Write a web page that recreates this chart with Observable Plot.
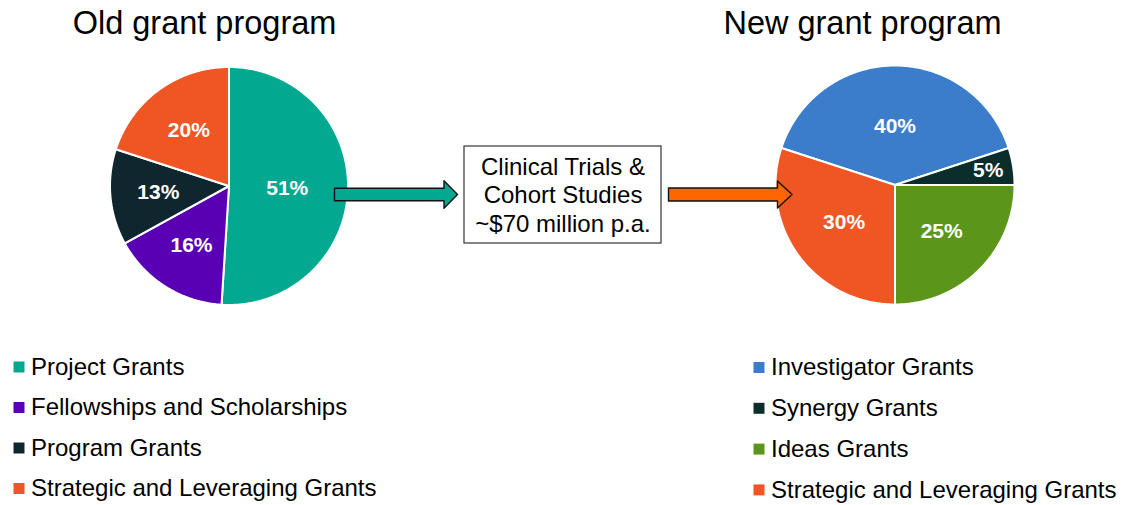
<!DOCTYPE html>
<html>
<head>
<meta charset="utf-8">
<script src="https://cdn.jsdelivr.net/npm/d3@7"></script>
<script src="https://cdn.jsdelivr.net/npm/@observablehq/plot@0.6"></script>
<style>
  html, body { margin: 0; padding: 0; background: #ffffff; }
  #chart svg { display: block; }
</style>
</head>
<body>
<div id="chart"></div>
<script>
// ---------- data ----------
const titles = ["Old grant program", "New grant program"];

const oldCategories = ["Project Grants", "Fellowships and Scholarships", "Program Grants", "Strategic and Leveraging Grants"];
const oldValues = [51, 16, 13, 20];
const oldColors = ["#02A88F", "#5A00B4", "#0F262E", "#F05524"];

const newCategories = ["Investigator Grants", "Synergy Grants", "Ideas Grants", "Strategic and Leveraging Grants"];
const newValues = [40, 5, 25, 30];
const newColors = ["#3B7DCA", "#0B2E2B", "#5B961B", "#F05524"];

const boxLines = ["Clinical Trials &", "Cohort Studies", "~$70 million p.a."];

// ---------- layout ----------
const W = 1124, H = 505;
const FONT = "Liberation Sans, Arial, Helvetica, sans-serif";
const oldPie = {cx: 228.5, cy: 185.5, r: 119, start: 0};
const newPie = {cx: 894.5, cy: 184.5, r: 119.5, start: -0.4 * Math.PI};

function pieGeometry(id, cats, vals, cols, p) {
  const arcs = d3.pie().sort(null).startAngle(p.start).endAngle(p.start + 2 * Math.PI)(vals);
  const poly = [], labels = [];
  arcs.forEach((a, i) => {
    const key = id + i;
    poly.push({key, color: cols[i], x: p.cx, y: p.cy});
    const n = Math.max(2, Math.ceil((a.endAngle - a.startAngle) / 0.01));
    for (let k = 0; k <= n; k++) {
      const t = a.startAngle + (a.endAngle - a.startAngle) * k / n;
      poly.push({key, color: cols[i], x: p.cx + p.r * Math.sin(t), y: p.cy - p.r * Math.cos(t)});
    }
    poly.push({key, color: cols[i], x: p.cx, y: p.cy});
    const th = a.endAngle - a.startAngle;
    const mid = (a.startAngle + a.endAngle) / 2;
    const cd = 4 * p.r * Math.sin(th / 2) / (3 * th);
    const rl = th < 0.5 ? 0.79 * p.r : Math.max(0.92 * cd, 0.49 * p.r);
    labels.push({x: p.cx + rl * Math.sin(mid), y: p.cy - rl * Math.cos(mid), text: vals[i] + "%"});
  });
  return {poly, labels};
}

const g1 = pieGeometry("o", oldCategories, oldValues, oldColors, oldPie);
const g2 = pieGeometry("n", newCategories, newValues, newColors, newPie);

function blockArrow(key, color, x0, x1, tip, cy, shaftH, headH) {
  const pts = [
    [x0, cy - shaftH / 2], [x1, cy - shaftH / 2], [x1, cy - headH / 2], [tip, cy],
    [x1, cy + headH / 2], [x1, cy + shaftH / 2], [x0, cy + shaftH / 2], [x0, cy - shaftH / 2]
  ];
  return pts.map(([x, y]) => ({key, color, x, y}));
}
const arrows = [
  ...blockArrow("a1", "#02A88F", 334, 443.5, 457, 194, 12.5, 27.5),
  ...blockArrow("a2", "#FF6600", 668, 777, 791.5, 194, 13, 27)
];

const box = [{x1: 464, x2: 661, y1: 146, y2: 243}];
const boxText = boxLines.map((t, i) => ({x: 562.5, y: 166.5 + i * 28.5, text: t}));

const titleText = titles.map((t, i) => ({x: [204, 862][i], y: 23, text: t}));

const legendRows = [
  ...oldCategories.map((c, i) => ({sx: 18.5, tx: 30.5, y: 366.5 + i * 40.5, text: c, color: oldColors[i]})),
  ...newCategories.map((c, i) => ({sx: 758.5, tx: 770.5, y: 367 + i * 40.8, text: c, color: newColors[i]}))
];

const chart = Plot.plot({
  width: W, height: H,
  margin: 0,
  style: {fontFamily: FONT, background: "#ffffff"},
  x: {domain: [0, W], range: [0, W], axis: null},
  y: {domain: [0, H], range: [0, H], axis: null},
  color: {type: "identity"},
  marks: [
    Plot.line([...g1.poly, ...g2.poly], {x: "x", y: "y", z: "key", fill: "color", stroke: "#ffffff", strokeWidth: 2, strokeLinejoin: "round", curve: "linear"}),
    Plot.text([...g1.labels, ...g2.labels], {x: "x", y: "y", text: "text", fill: "#ffffff", fontSize: 21, fontWeight: "bold", fontFamily: FONT}),
    Plot.line(arrows, {x: "x", y: "y", z: "key", fill: "color", stroke: "#111111", strokeWidth: 1.4, curve: "linear"}),
    Plot.rect(box, {x1: "x1", x2: "x2", y1: "y1", y2: "y2", fill: "#ffffff", stroke: "#333333", strokeWidth: 1.2}),
    Plot.text(boxText, {x: "x", y: "y", text: "text", fill: "#000000", fontSize: 24, fontFamily: FONT}),
    Plot.text(titleText, {x: "x", y: "y", text: "text", fill: "#000000", fontSize: 32.5, fontFamily: FONT}),
    Plot.dot(legendRows, {x: "sx", y: "y", fill: "color", symbol: "square", r: 6.2, stroke: "none"}),
    Plot.text(legendRows, {x: "tx", y: "y", text: "text", textAnchor: "start", fill: "#000000", fontSize: 24, fontFamily: FONT})
  ]
});
document.getElementById("chart").appendChild(chart);
</script>
</body>
</html>
